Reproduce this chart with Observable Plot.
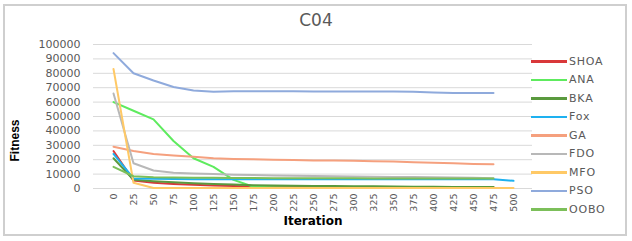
<!DOCTYPE html>
<html>
<head>
<meta charset="utf-8">
<script src="https://cdn.jsdelivr.net/npm/d3@7"></script>
<script src="https://cdn.jsdelivr.net/npm/@observablehq/plot@0.6"></script>
<style>
  html, body { margin: 0; padding: 0; background: #fff; }
  #wrap { position: relative; width: 632px; height: 241px; overflow: hidden; font-family: "DejaVu Sans", sans-serif; }
  #frame { position: absolute; left: 3px; top: 4px; width: 620px; height: 228px; border: 2px solid #CFCFCF; box-sizing: content-box; pointer-events: none; }
  #title { position: absolute; left: 0; width: 632px; top: 10px; text-align: center; font-size: 17px; color: #595959; }
  #legend { position: absolute; left: 531px; top: 52px; font-size: 11px; color: #595959; letter-spacing: 0.8px; }
  .li { display: flex; align-items: center; height: 18.5px; }
  .sw { width: 36px; height: 2.5px; margin-right: 2px; }
  #chart { position: absolute; left: 0; top: 0; }
</style>
</head>
<body>
<div id="wrap">
  <div id="chart"></div>
  <div id="frame"></div>
  <div id="title">C04</div>
  <div id="legend"></div>
</div>
<script>
const iterations = [0,25,50,75,100,125,150,175,200,225,250,275,300,325,350,375,400,425,450,475,500];
const seriesNames = ["SHOA","ANA","BKA","Fox","GA","FDO","MFO","PSO","OOBO"];
const seriesColors = ["#D9383A","#5EEB5E","#5A9A3E","#1EB1F0","#F5A07E","#B8B8B8","#FFC966","#8FAADC","#7CBF5A"];
const yTicks = [0,10000,20000,30000,40000,50000,60000,70000,80000,90000,100000];

const SHOA = [26000,5500,4000,3200,2600,2100,1700,1400,1200,1100,1000,1000,950,950,900,900,900,900,900,900,null];
const ANA  = [60000,54000,48000,33000,21000,15000,6000,1200,800,700,600,600,600,600,600,600,600,600,600,600,null];
const BKA  = [21000,6000,5000,4300,3700,3200,2700,2300,2100,1900,1800,1700,1600,1500,1400,1300,1200,1100,1000,1000,null];
const Fox  = [24000,7000,6700,6600,6500,6500,6500,6500,6500,6500,6500,6500,6500,6500,6500,6500,6500,6500,6500,6500,5300];
const GA   = [29000,26000,24000,23000,22000,21000,20500,20300,20000,19800,19500,19400,19300,19000,18800,18300,17800,17500,17000,16800,null];
const FDO  = [66000,17500,12500,11000,10500,10000,9500,9300,9000,8800,8600,8500,8400,8200,8000,7900,7800,7600,7400,7200,null];
const MFO  = [83000,4000,400,300,300,300,300,300,300,300,300,300,300,300,300,300,300,300,300,300,300];
const PSO  = [94000,80000,75000,70500,68000,67200,67500,67600,67600,67500,67300,67300,67300,67300,67300,67200,66600,66300,66300,66300,null];
const OOBO = [15000,8500,7800,7600,7500,7400,7300,7300,7200,7200,7100,7100,7100,7000,7000,7000,7000,6900,6900,6900,null];

const seriesValues = [SHOA,ANA,BKA,Fox,GA,FDO,MFO,PSO,OOBO];

const rows = [];
seriesNames.forEach((name, si) => {
  seriesValues[si].forEach((v, i) => {
    if (v != null) rows.push({series: name, iter: iterations[i], value: v});
  });
});

const chart = Plot.plot({
  width: 632,
  height: 241,
  marginLeft: 93,
  marginRight: 100,
  marginTop: 44,
  marginBottom: 53,
  style: {fontFamily: "DejaVu Sans, sans-serif", background: "transparent", overflow: "visible"},
  x: {type: "point", domain: iterations, padding: 0.5, label: null},
  y: {domain: [0, 100000], label: null},
  color: {domain: seriesNames, range: seriesColors},
  marks: [
    Plot.gridY(yTicks, {stroke: "#D9D9D9", strokeOpacity: 1, strokeWidth: 1}),
    Plot.axisY(yTicks, {tickSize: 0, tickPadding: 13, fontSize: 11, fill: "#595959", tickFormat: d => String(d), style: "letter-spacing:0.9px", label: null}),
    Plot.axisX(iterations, {tickSize: 0, tickPadding: 5, tickRotate: -90, fontSize: 9.5, fill: "#595959", tickFormat: d => String(d), label: null}),
    Plot.line(rows, {x: "iter", y: "value", z: "series", stroke: "series", strokeWidth: 2, curve: "linear"}),
    Plot.text(["Iteration"], {frameAnchor: "bottom", dy: 36, text: d => d, fontSize: 12, fontWeight: "bold", fill: "#000"}),
    Plot.text(["Fitness"], {frameAnchor: "left", dx: -78, dy: 45, rotate: -90, text: d => d, fontSize: 12, fontWeight: "bold", fill: "#000", fontFamily: "Liberation Sans Narrow, Liberation Sans, sans-serif"})
  ]
});
document.getElementById("chart").appendChild(chart);

const leg = document.getElementById("legend");
seriesNames.forEach((name, i) => {
  const row = document.createElement("div");
  row.className = "li";
  const sw = document.createElement("span");
  sw.className = "sw";
  sw.style.background = seriesColors[i];
  const lab = document.createElement("span");
  lab.textContent = name;
  row.appendChild(sw);
  row.appendChild(lab);
  leg.appendChild(row);
});
</script>
</body>
</html>
